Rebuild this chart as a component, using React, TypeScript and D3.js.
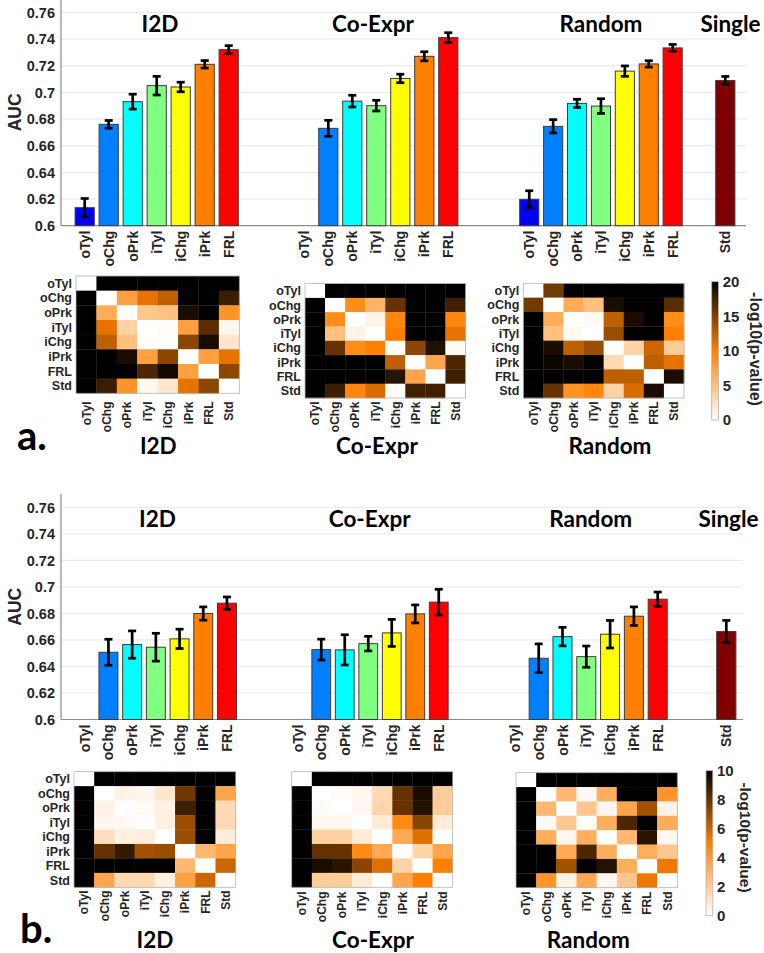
import React from 'react'
import * as d3 from 'd3'

// categories
const labels = ['oTyl', 'oChg', 'oPrk', 'iTyl', 'iChg', 'iPrk', 'FRL']
const singleLabels = ['Std']
const hmLabels = ['oTyl', 'oChg', 'oPrk', 'iTyl', 'iChg', 'iPrk', 'FRL', 'Std']
const barColors = ['#0000ff', '#0080ff', '#00ffff', '#80ff80', '#ffff00', '#ff8000', '#ff0000']
const stdColors = ['#800000']
const yTicks = [0.6, 0.62, 0.64, 0.66, 0.68, 0.7, 0.72, 0.74, 0.76]
const yTickLabels = ['0.6', '0.62', '0.64', '0.66', '0.68', '0.7', '0.72', '0.74', '0.76']

// a. AUC values and errors
const aucA_I2D = [0.6135, 0.676, 0.693, 0.705, 0.704, 0.721, 0.732]
const errA_I2D = [0.0069, 0.0029, 0.0056, 0.007, 0.0036, 0.0028, 0.003]
const aucA_CoExpr = [null, 0.673, 0.6934, 0.69, 0.7104, 0.727, 0.741]
const errA_CoExpr = [null, 0.006, 0.0044, 0.004, 0.0032, 0.0034, 0.0037]
const aucA_Random = [0.6198, 0.6745, 0.6917, 0.6897, 0.7159, 0.7213, 0.7333]
const errA_Random = [0.0064, 0.005, 0.0031, 0.0055, 0.0039, 0.0024, 0.0026]
const aucA_Std = [0.7089]
const errA_Std = [0.003]

// b. AUC values and errors
const aucB_I2D = [null, 0.6507, 0.6565, 0.6545, 0.6608, 0.6799, 0.6877]
const errB_I2D = [null, 0.0098, 0.0103, 0.0105, 0.0073, 0.005, 0.0047]
const aucB_CoExpr = [null, 0.6527, 0.6525, 0.6572, 0.6653, 0.6796, 0.6885]
const errB_CoExpr = [null, 0.0079, 0.0114, 0.0055, 0.0102, 0.0068, 0.0097]
const aucB_Random = [null, 0.6462, 0.6625, 0.6474, 0.6643, 0.6779, 0.6907]
const errB_Random = [null, 0.0108, 0.007, 0.008, 0.0104, 0.007, 0.0054]
const aucB_Std = [0.6663]
const errB_Std = [0.0084]

// -log10(p-value) matrices
const hmA_I2D = [
  [0, 20, 20, 20, 20, 20, 20, 20],
  [20, 0, 7.5, 11, 12.5, 20, 20, 17.7],
  [20, 6.5, 0, 4.5, 5, 19, 20, 8.5],
  [20, 11, 3.5, 0, 0.2, 7.5, 16.5, 0.7],
  [20, 12.5, 5, 0.2, 0, 14.5, 19, 2],
  [20, 20, 19, 7.5, 14.5, 0, 7.5, 11],
  [20, 20, 20, 17, 19.2, 7.5, 0, 14.5],
  [20, 17.7, 8.5, 0.5, 2, 11, 14.5, 0],
]
const hmA_CoExpr = [
  [0, 20, 20, 20, 20, 20, 20, 20],
  [20, 0, 9, 6, 16, 20, 20, 17.5],
  [20, 9, 0, 1, 9.5, 20, 20, 9.5],
  [20, 5, 1, 0, 10, 20, 20, 11],
  [20, 16, 9, 10, 0, 14.5, 18.7, 0.4],
  [20, 20, 20, 20, 12.5, 0, 7, 17],
  [20, 20, 20, 20, 18.5, 7, 0, 17.5],
  [20, 17.7, 9.5, 11.5, 0.3, 17.5, 17.5, 0],
]
const hmA_Random = [
  [0, 15.5, 20, 20, 20, 20, 20, 20],
  [15.5, 0, 6.5, 5, 19, 20, 20, 16.5],
  [20, 6.5, 0, 0.5, 12.5, 19, 20, 9],
  [20, 5, 0.5, 0, 14, 20, 20, 10],
  [20, 19, 12.5, 14, 0, 3.5, 12, 4],
  [20, 19.5, 19, 20, 3, 0, 12.5, 11],
  [20, 20, 20, 20, 12.5, 12.5, 0, 19],
  [20, 16, 8.5, 9.5, 3.5, 11.5, 19, 0],
]
const hmB_I2D = [
  [0, 10, 10, 10, 10, 10, 10, 10],
  [10, 0, 0.5, 0.3, 1, 7.8, 10, 3.5],
  [10, 0.5, 0, 0.2, 0.6, 8.8, 10, 1.5],
  [10, 0.3, 0.2, 0, 0.6, 7, 10, 1.5],
  [10, 1.3, 0.6, 0.7, 0, 7, 10, 0.7],
  [10, 8, 9, 6.8, 7, 0, 2.8, 3.5],
  [10, 10, 10, 10, 10, 2.8, 0, 6],
  [10, 3.5, 1.5, 1.5, 0.6, 3.7, 6, 0],
]
const hmB_CoExpr = [
  [0, 10, 10, 10, 10, 10, 10, 10],
  [10, 0, 0.1, 0.3, 1.5, 8, 9.5, 2],
  [10, 0.1, 0, 0.3, 1.7, 8, 9.3, 2],
  [10, 0.3, 0.3, 0, 0.8, 4.6, 7.3, 0.8],
  [10, 1.8, 1.8, 0.8, 0, 3.4, 5.6, 0],
  [10, 8, 8, 4.6, 3.4, 0, 1.7, 3.5],
  [10, 9.5, 9.2, 7.3, 5.6, 1.7, 0, 5],
  [10, 2, 2, 0.8, 0, 3.5, 5, 0],
]
const hmB_Random = [
  [0, 10, 10, 10, 10, 10, 10, 10],
  [10, 0, 2.8, 0.2, 3.2, 10, 10, 4.2],
  [10, 2.8, 0, 2.2, 0.3, 3.5, 6.8, 0.5],
  [10, 0.2, 2.2, 0, 3.2, 8.5, 10, 3.3],
  [10, 3.2, 0.3, 3.2, 0, 2.8, 9.2, 0.3],
  [10, 10, 3.4, 8.5, 3.2, 0, 3.2, 2.2],
  [10, 10, 6.8, 10, 9.3, 3.2, 0, 5.3],
  [10, 4.2, 0.5, 3.4, 0.3, 2.2, 5.3, 0],
]
const colorTicksA = [0, 5, 10, 15, 20]
const colorTicksB = [0, 2, 4, 6, 8, 10]

const sans = '"Liberation Sans", Arial, sans-serif'
const titleFont = 'Lato, "Open Sans", sans-serif'
const ink = '#262626'

type Panel = {
  title: string
  cats: string[]
  auc: (number | null)[]
  err: (number | null)[]
  colors: string[]
  start: number
  step: number
  titleX: number
}

function BarChart({ panels, y0, yTop, xEnd, titleY }: { panels: Panel[]; y0: number; yTop: number; xEnd: number; titleY: number }) {
  const y = d3.scaleLinear().domain([0.6, 0.76]).range([y0, yTop])
  const axisX = 61
  return (
    <g>
      {yTicks.slice(1).map(t => (
        <line key={t} x1={axisX} x2={xEnd} y1={y(t)} y2={y(t)} stroke="#e6e6e6" strokeWidth={1} />
      ))}
      <line x1={axisX} x2={xEnd} y1={y(0.6)} y2={y(0.6)} stroke="#8c8c8c" strokeWidth={1.2} />
      <line x1={axisX} x2={axisX} y1={y(0.77)} y2={y(0.6)} stroke="#8c8c8c" strokeWidth={1.2} />
      {yTicks.map((t, i) => (
        <text key={t} x={axisX - 6} y={y(t)} dy="0.36em" textAnchor="end" fontFamily={sans} fontWeight="bold" fontSize={14.5} fill={ink}>
          {yTickLabels[i]}
        </text>
      ))}
      <text transform={`translate(15,${y(0.685)}) rotate(-90)`} dy="0.35em" textAnchor="middle" fontFamily={sans} fontWeight="bold" fontSize={17.5} fill={ink}>
        AUC
      </text>
      {panels.map(p => {
        const n = p.cats.length
        const x = d3.scalePoint().domain(p.cats).range([p.start, p.start + p.step * n]).padding(0.5)
        const w = p.step * 0.8
        return (
          <g key={p.title}>
            <text x={p.titleX} y={titleY} textAnchor="middle" fontFamily={titleFont} fontWeight="bold" fontSize={22.5} fill="#000">
              {p.title}
            </text>
            {p.cats.map((c, i) => {
              const v = p.auc[i]
              const e = p.err[i]
              const cx = x(c) as number
              return (
                <g key={c}>
                  {v != null && (
                    <rect x={cx - w / 2} y={y(v)} width={w} height={y(0.6) - y(v)} fill={p.colors[i]} stroke="#3c3c3c" strokeWidth={1} />
                  )}
                  {v != null && e != null && (
                    <g stroke="#000" strokeWidth={2.7}>
                      <line x1={cx} x2={cx} y1={y(v - e)} y2={y(v + e)} />
                      <line x1={cx - 4} x2={cx + 4} y1={y(v - e)} y2={y(v - e)} />
                      <line x1={cx - 4} x2={cx + 4} y1={y(v + e)} y2={y(v + e)} />
                    </g>
                  )}
                  <text transform={`translate(${cx},${y0 + 5}) rotate(-90)`} dy="0.36em" textAnchor="end" fontFamily={sans} fontWeight="bold" fontSize={14} fill={ink}>
                    {c}
                  </text>
                </g>
              )
            })}
          </g>
        )
      })}
    </g>
  )
}

type HM = {
  matrix: number[][]
  x0: number
  x1: number
  y0: number
  y1: number
  rowLabels: boolean
  colLabelY: number
  title: string
  titleX: number
  titleY: number
}

function Heatmap({ hm, max }: { hm: HM; max: number }) {
  const x = d3.scaleBand().domain(hmLabels).range([hm.x0, hm.x1])
  const y = d3.scaleBand().domain(hmLabels).range([hm.y0, hm.y1])
  const color = d3.scaleLinear<string>().domain([0, max / 2, max]).range(['#ffffff', '#ff8000', '#000000']).clamp(true)
  return (
    <g>
      {hm.matrix.map((row, r) =>
        row.map((v, c) => (
          <rect key={`${r}-${c}`} x={x(hmLabels[c])} y={y(hmLabels[r])} width={x.bandwidth() + 0.3} height={y.bandwidth() + 0.3} fill={color(v)} />
        ))
      )}
      <rect x={hm.x0} y={hm.y0} width={hm.x1 - hm.x0} height={hm.y1 - hm.y0} fill="none" stroke="#b4b4b4" strokeWidth={0.8} />
      {hm.rowLabels &&
        hmLabels.map(l => (
          <text key={l} x={hm.x0 - 4} y={(y(l) as number) + y.bandwidth() / 2} dy="0.36em" textAnchor="end" fontFamily={sans} fontWeight="bold" fontSize={12.5} fill={ink}>
            {l}
          </text>
        ))}
      {hmLabels.map(l => (
        <text key={l} transform={`translate(${(x(l) as number) + x.bandwidth() / 2},${hm.colLabelY}) rotate(-90)`} dy="0.36em" textAnchor="end" fontFamily={sans} fontWeight="bold" fontSize={12} fill={ink}>
          {l}
        </text>
      ))}
      <text x={hm.titleX} y={hm.titleY} textAnchor="middle" fontFamily={titleFont} fontWeight="bold" fontSize={22.5} fill="#000">
        {hm.title}
      </text>
    </g>
  )
}

function ColorBar({ id, ticks, x, y0, y1, titleX, titleY, fontSize }: { id: string; ticks: number[]; x: number; y0: number; y1: number; titleX: number; titleY: number; fontSize: number }) {
  const max = ticks[ticks.length - 1]
  const s = d3.scaleLinear().domain([0, max]).range([y1, y0])
  return (
    <g>
      <defs>
        <linearGradient id={id} x1="0" y1="1" x2="0" y2="0">
          <stop offset="0%" stopColor="#ffffff" />
          <stop offset="50%" stopColor="#ff8000" />
          <stop offset="100%" stopColor="#000000" />
        </linearGradient>
      </defs>
      <rect x={x} y={y0} width={6.8} height={y1 - y0} fill={`url(#${id})`} stroke="#b4b4b4" strokeWidth={0.8} />
      {ticks.map(t => (
        <text key={t} x={x + 11} y={s(t)} dy="0.36em" fontFamily={sans} fontWeight="bold" fontSize={15} fill={ink}>
          {t}
        </text>
      ))}
      <text transform={`translate(${titleX},${titleY}) rotate(90)`} dy="0.35em" textAnchor="middle" fontFamily={sans} fontWeight="bold" fontSize={fontSize} fill={ink}>
        -log10(p-value)
      </text>
    </g>
  )
}

export default function App() {
  const panelsA: Panel[] = [
    { title: 'I2D', cats: labels, auc: aucA_I2D, err: errA_I2D, colors: barColors, start: 72.7, step: 24, titleX: 160 },
    { title: 'Co-Expr', cats: labels, auc: aucA_CoExpr, err: errA_CoExpr, colors: barColors, start: 292.3, step: 24, titleX: 373 },
    { title: 'Random', cats: labels, auc: aucA_Random, err: errA_Random, colors: barColors, start: 517.3, step: 23.9, titleX: 601 },
    { title: 'Single', cats: singleLabels, auc: aucA_Std, err: errA_Std, colors: stdColors, start: 713.3, step: 24, titleX: 730.5 },
  ]
  const panelsB: Panel[] = [
    { title: 'I2D', cats: labels, auc: aucB_I2D, err: errB_I2D, colors: barColors, start: 72.9, step: 23.7, titleX: 157.5 },
    { title: 'Co-Expr', cats: labels, auc: aucB_CoExpr, err: errB_CoExpr, colors: barColors, start: 286, step: 23.5, titleX: 369.7 },
    { title: 'Random', cats: labels, auc: aucB_Random, err: errB_Random, colors: barColors, start: 503, step: 23.8, titleX: 590.7 },
    { title: 'Single', cats: singleLabels, auc: aucB_Std, err: errB_Std, colors: stdColors, start: 714.3, step: 24, titleX: 728.5 },
  ]
  const hmsA: HM[] = [
    { matrix: hmA_I2D, x0: 76, x1: 239.3, y0: 276, y1: 393.3, rowLabels: true, colLabelY: 401.5, title: 'I2D', titleX: 158.3, titleY: 453.5 },
    { matrix: hmA_CoExpr, x0: 305, x1: 465.5, y0: 283.6, y1: 398, rowLabels: true, colLabelY: 401.5, title: 'Co-Expr', titleX: 377, titleY: 453.5 },
    { matrix: hmA_Random, x0: 523.3, x1: 684, y0: 283.3, y1: 398, rowLabels: true, colLabelY: 401.5, title: 'Random', titleX: 610, titleY: 453.5 },
  ]
  const hmsB: HM[] = [
    { matrix: hmB_I2D, x0: 74, x1: 235.7, y0: 771.7, y1: 887.3, rowLabels: true, colLabelY: 890.5, title: 'I2D', titleX: 155, titleY: 948 },
    { matrix: hmB_CoExpr, x0: 291.7, x1: 452.7, y0: 771.7, y1: 887.3, rowLabels: false, colLabelY: 891.5, title: 'Co-Expr', titleX: 373, titleY: 948 },
    { matrix: hmB_Random, x0: 516, x1: 677.3, y0: 772.7, y1: 887.7, rowLabels: false, colLabelY: 891.5, title: 'Random', titleX: 588.3, titleY: 948 },
  ]
  return (
    <svg width={764} height={953} style={{ position: 'absolute', left: 0, top: 0, background: '#fff' }}>
      <rect width={764} height={953} fill="#fff" />
      <BarChart panels={panelsA} y0={225.7} yTop={12.3} xEnd={746} titleY={31.7} />
      {hmsA.map(h => (
        <Heatmap key={h.title} hm={h} max={20} />
      ))}
      <ColorBar id="cbA" ticks={colorTicksA} x={711.7} y0={281.7} y1={420} titleX={756} titleY={349} fontSize={16} />
      <text x={17} y={450} fontFamily={titleFont} fontWeight="bold" fontSize={40} fill="#000">a.</text>

      <BarChart panels={panelsB} y0={719.5} yTop={507.3} xEnd={743} titleY={526.7} />
      {hmsB.map(h => (
        <Heatmap key={h.title} hm={h} max={10} />
      ))}
      <ColorBar id="cbB" ticks={colorTicksB} x={706} y0={770.7} y1={915.7} titleX={745.7} titleY={837.5} fontSize={15.5} />
      <text x={20} y={942.7} fontFamily={titleFont} fontWeight="bold" fontSize={40} fill="#000">b.</text>
    </svg>
  )
}
